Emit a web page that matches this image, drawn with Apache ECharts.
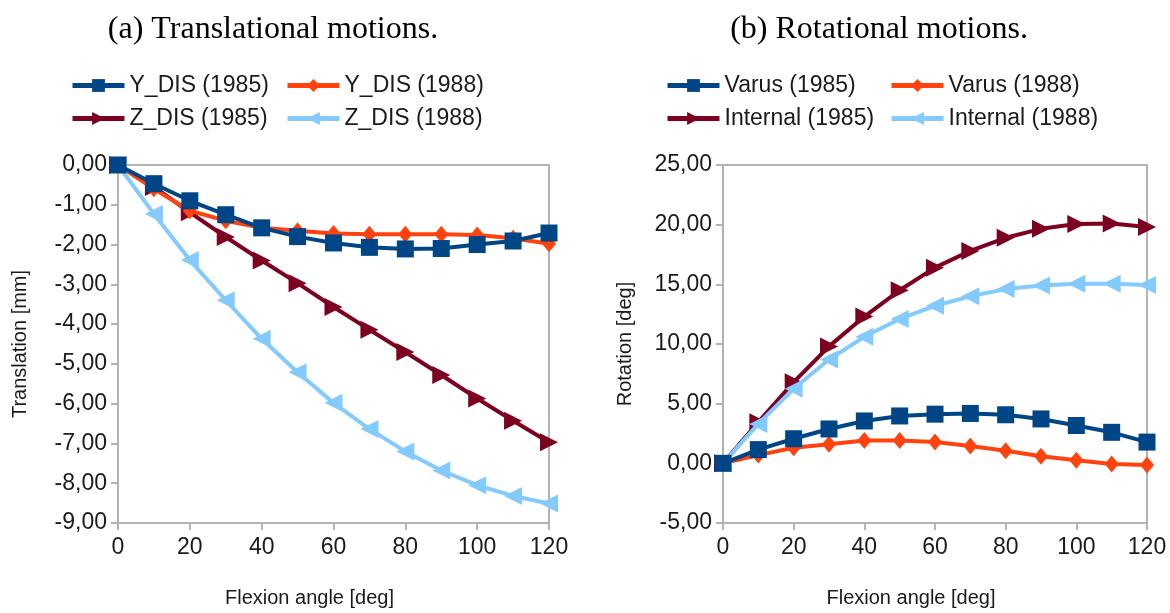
<!DOCTYPE html>
<html>
<head>
<meta charset="utf-8">
<script src="https://cdn.jsdelivr.net/npm/echarts@6/dist/echarts.min.js"></script>
<style>
html,body{margin:0;padding:0;background:#fff;}
#c{width:1170px;height:613px;}
</style>
</head>
<body>
<div id="c"></div>
<script>
const flexion = [0,10,20,30,40,50,60,70,80,90,100,110,120];
const yDis1985 = [0,-0.47,-0.9,-1.25,-1.58,-1.8,-1.96,-2.07,-2.11,-2.1,-2.0,-1.91,-1.71];
const yDis1988 = [0,-0.6,-1.15,-1.4,-1.58,-1.65,-1.72,-1.74,-1.74,-1.74,-1.76,-1.84,-1.98];
const zDis1985 = [0,-0.55,-1.19,-1.81,-2.4,-2.97,-3.57,-4.14,-4.7,-5.28,-5.87,-6.43,-6.97];
const zDis1988 = [0,-1.23,-2.39,-3.4,-4.37,-5.21,-5.98,-6.64,-7.2,-7.68,-8.05,-8.32,-8.51];
const varus1985 = [0,1.15,2.06,2.88,3.55,3.97,4.12,4.18,4.07,3.72,3.17,2.6,1.78];
const varus1988 = [0,0.69,1.3,1.6,1.92,1.92,1.78,1.45,1.05,0.6,0.25,-0.05,-0.14];
const internal1985 = [0,3.45,6.8,9.8,12.3,14.5,16.4,17.8,18.9,19.65,20.05,20.1,19.8];
const internal1988 = [0,3.3,6.25,8.7,10.6,12.1,13.2,14.0,14.6,14.9,15.05,15.05,14.95];

const titles = ['(a) Translational motions.', '(b) Rotational motions.'];
const xName = 'Flexion angle [deg]';
const yNames = ['Translation [mm]', 'Rotation [deg]'];
const names = [['Y_DIS (1985)','Y_DIS (1988)','Z_DIS (1985)','Z_DIS (1988)'],
               ['Varus (1985)','Varus (1988)','Internal (1985)','Internal (1988)']];

const C = ['#004586','#ff420e','#7e0021','#83caff'];
const SYM = ['rect','diamond','triangle','triangle'];
const ROT = [0,0,-90,90];
const SZ = [17,[14,17],18,18];
const Z = [5,3,2,4];
const TXT = '#1a1a1a';
const AX = '#b3b3b3';

function pairs(arr){ return flexion.map((x,i)=>[x,arr[i]]); }
function fmt(v){ let s = Math.abs(v)<1e-9 ? '0.00' : v.toFixed(2); return s.replace('.',','); }

const grids = [
  {left:118, width:431, top:165, height:361},
  {left:723, width:424, top:165, height:361}
];

const xAxes = grids.map((g,i)=>({
  type:'value', gridIndex:i, min:0, max:120, interval:20,
  name:xName, nameLocation:'middle', nameGap:65,
  nameTextStyle:{fontFamily:'Liberation Sans', fontSize:20, color:TXT, padding:[0,48,0,0]},
  axisLine:{show:true, onZero:false, lineStyle:{color:AX, width:2}},
  axisTick:{show:true, length:7, lineStyle:{color:AX, width:2}},
  axisLabel:{fontFamily:'Liberation Sans', fontSize:23, color:TXT, margin:13},
  splitLine:{show:false}
}));

const yAxes = [
  {type:'value', gridIndex:0, min:-9, max:0, interval:1, name:yNames[0]},
  {type:'value', gridIndex:1, min:-5, max:25, interval:5, name:yNames[1]}
].map(a=>Object.assign(a,{
  nameLocation:'middle', nameGap:88,
  nameTextStyle:{fontFamily:'Liberation Sans', fontSize:20, color:TXT},
  axisLine:{show:true, lineStyle:{color:AX, width:2}},
  axisTick:{show:true, length:7, lineStyle:{color:AX, width:2}},
  axisLabel:{fontFamily:'Liberation Sans', fontSize:23, color:TXT, margin:11, formatter:fmt},
  splitLine:{show:false}
}));

const data = [[yDis1985,yDis1988,zDis1985,zDis1988],[varus1985,varus1988,internal1985,internal1988]];
const series = [];
data.forEach((group,gi)=>{
  group.forEach((arr,k)=>{
    series.push({
      type:'line', name:names[gi][k], xAxisIndex:gi, yAxisIndex:gi,
      data:pairs(arr), symbol:SYM[k], symbolRotate:ROT[k], symbolSize:SZ[k],
      showAllSymbol:true, z:Z[k],
      lineStyle:{color:C[k], width:4},
      itemStyle:{color:C[k]},
      emphasis:{disabled:true}, animation:false
    });
  });
});

const legPos = [
  [[70,74],[285,74],[70,107],[285,107]],
  [[665,74],[889,74],[665,107],[889,107]]
];
const legends = [];
legPos.forEach((grp,gi)=>grp.forEach((p,k)=>{
  legends.push({
    data:[names[gi][k]], left:p[0], top:p[1], padding:0,
    itemWidth:52, itemHeight:16, itemGap:0,
    lineStyle:{width:5},
    textStyle:{fontFamily:'Liberation Sans', fontSize:23, color:TXT, padding:[0,0,0,0]},
    selectedMode:false
  });
}));

const option = {
  backgroundColor:'#fff',
  animation:false,
  title:[
    {text:titles[0], left:268, top:9, textAlign:'center', textStyle:{fontFamily:'Liberation Serif', fontSize:32, fontWeight:'normal', color:'#000'}},
    {text:titles[1], left:874, top:9, textAlign:'center', textStyle:{fontFamily:'Liberation Serif', fontSize:32, fontWeight:'normal', color:'#000'}}
  ],
  grid:grids.map(g=>Object.assign({show:true, borderColor:AX, borderWidth:2, backgroundColor:'transparent', containLabel:false}, g)),
  xAxis:xAxes,
  yAxis:yAxes,
  legend:legends,
  series:series
};
const chart = echarts.init(document.getElementById('c'), null, {renderer:'canvas'});
chart.setOption(option);
</script>
</body>
</html>
